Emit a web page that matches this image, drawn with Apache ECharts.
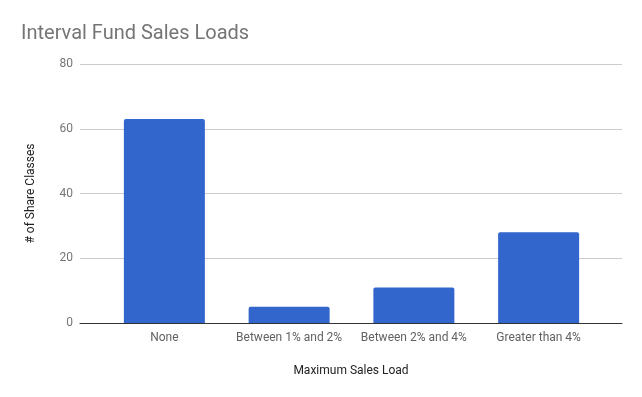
<!DOCTYPE html>
<html>
<head>
    <meta charset="UTF-8">
    <title>Interval Fund Sales Loads</title>
    <style>
        html, body { margin: 0; padding: 0; background: #fff; }
        #chart { width: 642px; height: 397px; }
    </style>
</head>
<body>
<div id="chart"></div>
<script src="https://cdn.jsdelivr.net/npm/echarts@6/dist/echarts.min.js"></script>
<script>
    var categories = ['None', 'Between 1% and 2%', 'Between 2% and 4%', 'Greater than 4%'];
    var shareClasses = [63, 5, 11, 28];
    var yTicks = [0, 20, 40, 60, 80];

    var font = 'Roboto, "Noto Sans", sans-serif';
    var chart = echarts.init(document.getElementById('chart'));
    var option = {
        animation: false,
        title: {
            text: 'Interval Fund Sales Loads',
            left: 16, top: 19,
            textStyle: { fontFamily: font, fontSize: 20, fontWeight: 'normal', color: '#757575' }
        },
        // grid 0 carries the wide gridlines, grid 1 the narrower category band
        grid: [
            { left: 80, right: 20, top: 64, bottom: 74 },
            { left: 102, right: 41, top: 64, bottom: 74 }
        ],
        xAxis: [
            {
                gridIndex: 0, type: 'category', data: [''],
                axisLine: { lineStyle: { color: '#333', width: 1 } },
                axisTick: { show: false }, axisLabel: { show: false },
                name: 'Maximum Sales Load', nameLocation: 'middle', nameGap: 42,
                nameTextStyle: { fontFamily: font, fontSize: 12, color: '#222' }
            },
            {
                gridIndex: 1, type: 'category', data: categories,
                axisLine: { show: false }, axisTick: { show: false },
                axisLabel: { fontFamily: font, fontSize: 12, color: '#616161', margin: 9, interval: 0 }
            }
        ],
        yAxis: [
            {
                gridIndex: 0, type: 'value', min: yTicks[0], max: yTicks[yTicks.length - 1], interval: 20,
                axisLine: { show: false }, axisTick: { show: false },
                axisLabel: { fontFamily: font, fontSize: 12, color: '#757575', margin: 7 },
                splitLine: { lineStyle: { color: '#cccccc', width: 1 } },
                name: '# of Share Classes', nameLocation: 'middle', nameGap: 43,
                nameTextStyle: { fontFamily: font, fontSize: 12, color: '#222' }
            },
            {
                gridIndex: 1, type: 'value', min: yTicks[0], max: yTicks[yTicks.length - 1], interval: 20,
                show: false
            }
        ],
        series: [{
            type: 'bar',
            xAxisIndex: 1, yAxisIndex: 1,
            data: shareClasses,
            barWidth: 81,
            itemStyle: { color: '#3366cc', borderRadius: [2, 2, 0, 0] }
        }]
    };
    chart.setOption(option);
</script>
</body>
</html>
